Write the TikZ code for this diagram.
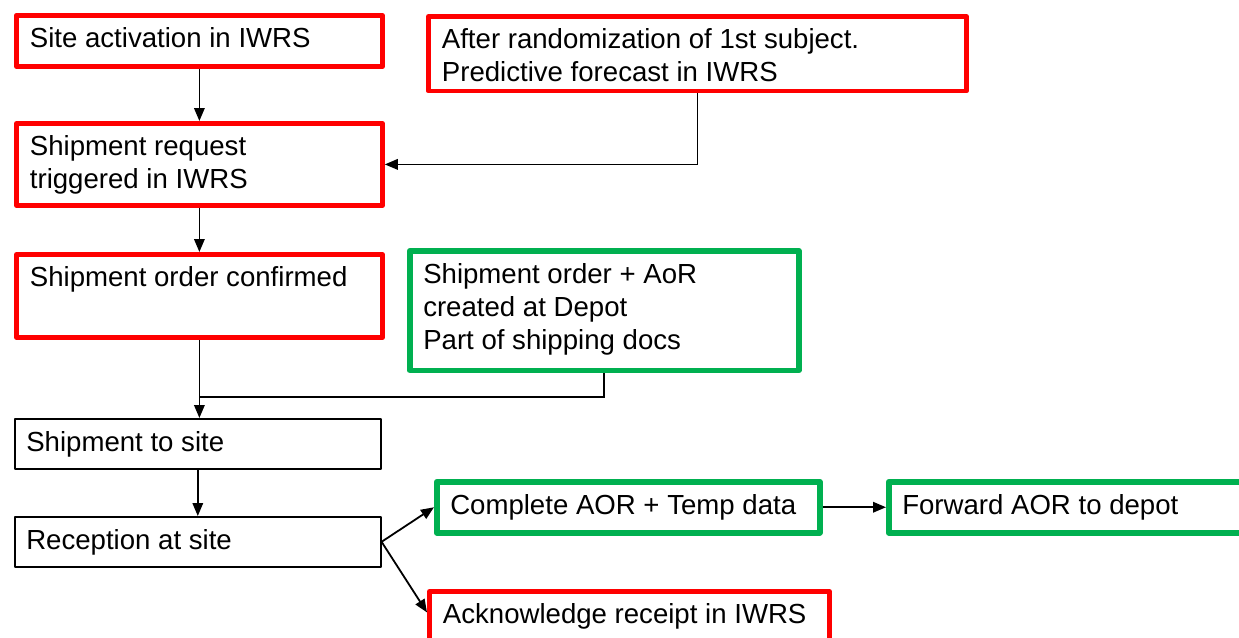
\documentclass[tikz,border=0pt]{standalone}
\usepackage{fontspec}
\setmainfont{Liberation Sans}
\usetikzlibrary{arrows.meta,calc}
\definecolor{boxred}{RGB}{255,0,0}
\definecolor{boxgreen}{RGB}{0,176,80}
\newcommand\bxt[3]{\parbox[c][#2][t]{#1}{\raggedright\leftskip=13.5pt\rightskip=0pt plus 1fil\parindent=0pt\baselineskip=33pt\rule{0pt}{32.5pt}#3\par}}
\tikzset{
  basebox/.style={rectangle, inner sep=0pt, anchor=north west, line join=round, font=\fontsize{27.6}{33}\selectfont},
  redbox/.style={basebox, draw=boxred, line width=4.8pt},
  greenbox/.style={basebox, draw=boxgreen, line width=5.5pt},
  blackbox/.style={basebox, draw=black, line width=1.6pt},
  arr/.style={draw=black, line width=1.8pt, -{Triangle[length=13pt,width=10.5pt]}},
  conn/.style={draw=black, line width=1.8pt}
}
\begin{document}
\begin{tikzpicture}[x=1pt,y=-1pt]
\useasboundingbox (0,0) rectangle (1239,637);
\clip (0,0) rectangle (1239,637);
\fill[white] (0,0) rectangle (1239,637);
\node[redbox] (A) at (14,13) {\bxt{366pt}{51pt}{Site activation in IWRS}};
\node[redbox] (B) at (14,121) {\bxt{366pt}{82pt}{Shipment request\\triggered in IWRS}};
\node[redbox] (C) at (426,14) {\bxt{538pt}{74.5pt}{After randomization of 1st subject.\\Predictive forecast in IWRS}};
\node[redbox] (D) at (14,252) {\bxt{366pt}{83pt}{Shipment order confirmed}};
\node[greenbox] (E) at (407,248) {\bxt{389pt}{119.5pt}{Shipment order + AoR\\created at Depot\\Part of shipping docs}};
\node[blackbox] (F) at (14,418) {\bxt{366pt}{50pt}{\hspace*{-2pt}Shipment to site}};
\node[blackbox] (G) at (14,516) {\bxt{366pt}{50pt}{\hspace*{-2pt}Reception at site}};
\node[greenbox] (H) at (434,479) {\bxt{383pt}{51pt}{Complete AOR + Temp data}};
\node[greenbox] (I) at (886,479) {\bxt{364pt}{51pt}{Forward AOR to depot}};
\node[redbox] (J) at (427,589) {\bxt{400pt}{56pt}{Acknowledge receipt in IWRS}};
\coordinate (join) at ($(D.south)+(0,57)$);
\draw[arr] (A.south) -- (A.south |- B.north);
\draw[arr] (C.south) |- (B.east);
\draw[arr] (B.south) -- (B.south |- D.north);
\draw[arr] (D.south) -- (D.south |- F.north);
\draw[conn] (E.south) |- (join);
\draw[arr] (F.south) -- (F.south |- G.north);
\draw[arr] (G.east) -- (H.west);
\draw[arr] (G.east) -- ([yshift=7pt]J.west);
\draw[arr] (H.east) -- (I.west);
\end{tikzpicture}
\end{document}
